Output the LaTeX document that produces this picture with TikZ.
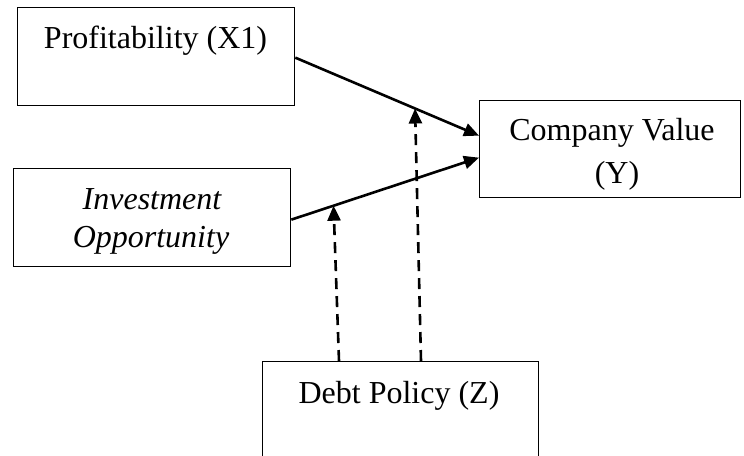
\documentclass[tikz,border=0pt]{standalone}
\usepackage{fontspec}
\setmainfont{Liberation Serif}
\usetikzlibrary{arrows.meta,calc}
\begin{document}
\begin{tikzpicture}[x=1pt,y=-1pt,
  box/.style={draw,line width=1.3pt,inner sep=0pt,anchor=north west},
  lbl/.style={inner sep=0pt,anchor=base,font=\fontsize{32}{40}\selectfont},
  conn/.style={line width=2.6pt,-{Triangle[length=15pt,width=13pt]}},
  dconn/.style={conn,dash pattern=on 11pt off 7pt}]
\useasboundingbox (0,0) rectangle (744,455);
\clip (0,0) rectangle (744,455);
% boxes
\node[box,minimum width=277pt,minimum height=98pt] (p1) at (17,7) {};
\node[box,minimum width=261pt,minimum height=97pt] (cv) at (479,100) {};
\node[box,minimum width=277pt,minimum height=98pt] (io) at (13,168) {};
\node[box,minimum width=276pt,minimum height=110pt] (dp) at (262,361) {};
% labels
\node[lbl] (tp1) at (155.5,48) {Profitability (X1)};
\node[lbl] (tcv1) at (612,140) {Company Value};
\node[lbl] (tcv2) at (617,183) {(Y)};
\node[lbl] (tio1) at (152,209) {\itshape Investment};
\node[lbl] (tio2) at (151,247) {\itshape Opportunity};
\node[lbl] (tdp) at (399,403) {Debt Policy (Z)};
% connectors
\coordinate (a1s) at ($(p1.east)+(0,1)$);
\coordinate (a1e) at ($(cv.west)+(0,-13.5)$);
\coordinate (a2s) at ($(io.east)+(0,2)$);
\coordinate (a2e) at ($(cv.west)+(0,8.5)$);
\draw[conn] (a1s) -- coordinate[pos=0.652] (m1) (a1e);
\draw[conn] (a2s) -- coordinate[pos=0.225] (m2) (a2e);
\coordinate (d1s) at ($(dp.north west)+(159,0)$);
\coordinate (d2s) at ($(dp.north west)+(77,0)$);
\draw[dconn] (d1s) -- (m1);
\draw[dconn] (d2s) -- (m2);
\end{tikzpicture}
\end{document}
